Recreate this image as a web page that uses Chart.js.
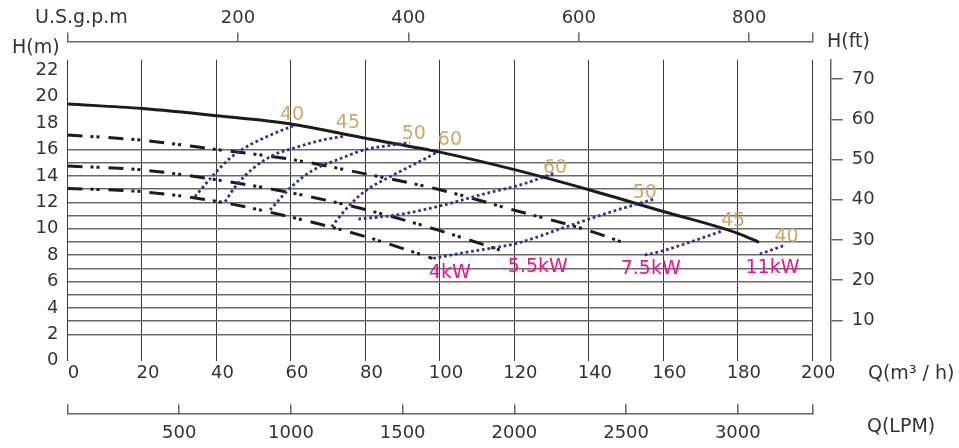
<!DOCTYPE html>
<html>
<head>
<meta charset="utf-8">
<script src="https://cdn.jsdelivr.net/npm/chart.js@4.4.0/dist/chart.umd.min.js"></script>
<style>
  html, body { margin: 0; padding: 0; background: #fff; }
  #wrap { width: 959px; height: 448px; }
</style>
</head>
<body>
<div id="wrap"><canvas id="chart" width="959" height="448"></canvas></div>
<script>
// Q in m3/h, H in m
const q11kW = [0, 20, 40, 60, 80, 100, 120, 140, 160, 180, 185.7];
const h11kW = [19.45, 19.1, 18.56, 17.93, 16.85, 15.8, 14.47, 12.95, 11.3, 9.65, 8.97];

const q7kW = [0, 20, 40, 60, 80, 100, 120, 140, 149.2];
const h7kW = [17.1, 16.7, 16.0, 15.25, 14.15, 12.95, 11.4, 9.85, 8.95];

const q5kW = [0, 20, 40, 60, 80, 100, 117];
const h5kW = [14.75, 14.45, 13.7, 12.72, 11.45, 9.85, 8.3];

const q4kW = [0, 20, 40, 60, 80, 98];
const h4kW = [13.05, 12.8, 12.07, 10.88, 9.4, 7.75];

// efficiency curves (%)
const qEffL40 = [34.2, 39.2, 43.6, 48.1, 53.5, 61.1];
const hEffL40 = [12.42, 14.07, 15.33, 16.21, 16.97, 17.86];
const qEffL45 = [42.3, 45.4, 49.9, 55.3, 60.6, 67.8, 74.5];
const hEffL45 = [12.05, 13.31, 14.58, 15.58, 16.09, 16.67, 17.02];
const qEffL50 = [54.4, 59.7, 66, 72.3, 80.3, 85.7, 91.9];
const hEffL50 = [11.42, 13.06, 14.45, 15.2, 16.02, 16.27, 16.52];
const qEffL60 = [70.9, 75.8, 80.3, 86.6, 92.8, 99.5];
const hEffL60 = [10.15, 11.8, 12.93, 13.94, 14.83, 15.83];
const qEffR60 = [78.1, 88.4, 100, 112.5, 121.5, 130.9];
const hEffR60 = [10.73, 11.04, 11.72, 12.68, 13.31, 14.22];
const qEffR50 = [98.2, 108.1, 120.6, 134, 144.8, 157.3];
const hEffR50 = [7.76, 8.26, 8.89, 10.15, 11.17, 12.23];
const qEffR45 = [155, 160, 166.2, 176];
const hEffR45 = [8.0, 8.33, 8.89, 9.85];
const qEffR40 = [185.9, 192.2];
const hEffR40 = [8.08, 8.7];

const effLabels = ['40', '45', '50', '60', '60', '50', '45', '40'];
const effLabelQ = [60.3, 75.3, 93.0, 102.7, 130.9, 155.0, 178.7, 193.1];
const effLabelH = [18.61, 18.0, 17.17, 16.72, 14.6, 12.67, 10.58, 9.37];

const powerLabels = ['4kW', '5.5kW', '7.5kW', '11kW'];
const powerLabelQ = [102.7, 126.3, 156.6, 189.3];
const powerLabelH = [6.62, 7.12, 6.95, 7.0];

// axis ticks
const qTicks = [0, 20, 40, 60, 80, 100, 120, 140, 160, 180, 200];
const hTicks = [0, 1, 2, 3, 4, 5, 6, 7, 8, 9, 10, 11, 12, 13, 14, 15, 16, 17, 18, 19, 20, 21, 22];
const ftTicks = [10, 20, 30, 40, 50, 60, 70];
const gpmTicks = [0, 200, 400, 600, 800];
const lpmTicks = [0, 500, 1000, 1500, 2000, 2500, 3000];

const Q_MAX = 200;
const H_MAX = 22.8;
const GPM_MAX = 874;
const LPM_MAX = Q_MAX * 1000 / 60;
const FT_MAX = H_MAX * 3.2808;

const TEXT = '#333';
const BLUE = '#2d3192';
const TAN = '#c8aa6c';
const PINK = '#e6178c';
const FONT = '"DejaVu Sans", sans-serif';

function pts(qs, hs) {
    return qs.map((q, i) => ({ x: q, y: hs[i] }));
}

function headLine(qs, hs, dashed) {
    return {
        data: pts(qs, hs),
        borderColor: '#1c1c1c',
        borderWidth: 3,
        borderDash: dashed ? [15, 8, 3, 3, 3, 9] : [],
        pointRadius: 0,
        cubicInterpolationMode: 'monotone',
        fill: false
    };
}

function effLine(qs, hs) {
    return {
        data: pts(qs, hs),
        borderColor: BLUE,
        borderWidth: 2.8,
        borderDash: [2.7, 2.8],
        pointRadius: 0,
        cubicInterpolationMode: 'monotone',
        fill: false
    };
}

function setTicks(list) {
    return scale => { scale.ticks = list.map(v => ({ value: v })); };
}

// text on the curves and axis titles
const textPlugin = {
    id: 'curveText',
    afterDatasetsDraw(chart) {
        const { ctx, scales: { x, y } } = chart;
        ctx.save();
        ctx.textAlign = 'center';
        ctx.textBaseline = 'middle';
        ctx.font = '19px ' + FONT;
        ctx.fillStyle = TAN;
        effLabels.forEach((t, i) => {
            ctx.fillText(t, x.getPixelForValue(effLabelQ[i]), y.getPixelForValue(effLabelH[i]));
        });
        ctx.fillStyle = PINK;
        powerLabels.forEach((t, i) => {
            ctx.fillText(t, x.getPixelForValue(powerLabelQ[i]), y.getPixelForValue(powerLabelH[i]));
        });

        ctx.textAlign = 'left';
        ctx.fillStyle = TEXT;
        ctx.fillText('U.S.g.p.m', 35, 18);
        ctx.fillText('H(m)', 12, 48);
        ctx.fillText('H(ft)', 827, 42);
        ctx.fillText('Q(m³ / h)', 868, 374);
        ctx.fillText('Q(LPM)', 867, 427);
        ctx.restore();
    }
};

const tickFont = { family: FONT, size: 18 };

new Chart(document.getElementById('chart'), {
    type: 'line',
    data: {
        datasets: [
            effLine(qEffL40, hEffL40),
            effLine(qEffL45, hEffL45),
            effLine(qEffL50, hEffL50),
            effLine(qEffL60, hEffL60),
            effLine(qEffR60, hEffR60),
            effLine(qEffR50, hEffR50),
            effLine(qEffR45, hEffR45),
            effLine(qEffR40, hEffR40),
            headLine(q4kW, h4kW, true),
            headLine(q5kW, h5kW, true),
            headLine(q7kW, h7kW, true),
            headLine(q11kW, h11kW, false)
        ]
    },
    options: {
        responsive: false,
        animation: false,
        devicePixelRatio: 1,
        layout: { padding: 0 },
        plugins: {
            legend: { display: false },
            tooltip: { enabled: false }
        },
        scales: {
            x: {
                type: 'linear',
                position: 'bottom',
                weight: 0,
                min: 0,
                max: Q_MAX,
                afterBuildTicks: setTicks(qTicks),
                afterFit: s => { s.height = 52.6; },
                grid: { color: '#3a3a3a', lineWidth: 1, drawTicks: false },
                border: { display: false },
                ticks: { color: TEXT, font: tickFont, padding: 2, labelOffset: 6, maxRotation: 0, autoSkip: false }
            },
            lpm: {
                type: 'linear',
                position: 'bottom',
                weight: 1,
                min: 0,
                max: LPM_MAX,
                afterBuildTicks: setTicks(lpmTicks.concat([LPM_MAX])),
                afterFit: s => { s.height = 34.7; },
                grid: { drawOnChartArea: false, color: '#666', lineWidth: 1.5, tickLength: -9 },
                border: { display: true, color: '#666', width: 1.5 },
                ticks: {
                    color: TEXT, font: tickFont, padding: 18, maxRotation: 0, autoSkip: false,
                    callback: v => (v === 0 || v === LPM_MAX) ? '' : v
                }
            },
            sTop: {
                type: 'linear',
                position: 'top',
                weight: 0,
                afterFit: s => { s.height = 17.7; },
                grid: { display: false, drawTicks: false },
                border: { display: false },
                ticks: { display: false }
            },
            gpm: {
                type: 'linear',
                position: 'top',
                weight: 1,
                min: 0,
                max: GPM_MAX,
                afterBuildTicks: setTicks(gpmTicks.concat([GPM_MAX])),
                afterFit: s => { s.height = 42; },
                grid: { drawOnChartArea: false, color: '#666', lineWidth: 1.5, tickLength: 9.5 },
                border: { display: true, color: '#666', width: 1.5 },
                ticks: {
                    color: TEXT, font: tickFont, padding: 3.7, maxRotation: 0, autoSkip: false,
                    callback: v => (v === 0 || v === GPM_MAX) ? '' : v
                }
            },
            y: {
                type: 'linear',
                position: 'left',
                min: 0,
                max: H_MAX,
                afterBuildTicks: setTicks(hTicks),
                afterFit: s => { s.width = 67.5; },
                grid: {
                    drawTicks: false,
                    lineWidth: 1.5,
                    color: c => (c.tick && c.tick.value >= 2 && c.tick.value <= 16) ? '#6a6a6a' : 'rgba(0,0,0,0)'
                },
                border: { display: false },
                ticks: {
                    color: TEXT, font: tickFont, padding: 9, autoSkip: false,
                    callback: v => v % 2 === 0 ? v : ''
                }
            },
            sRight: {
                type: 'linear',
                position: 'right',
                weight: 0,
                afterFit: s => { s.width = 18.4; },
                grid: { display: false, drawTicks: false },
                border: { display: false },
                ticks: { display: false }
            },
            ft: {
                type: 'linear',
                position: 'right',
                weight: 1,
                min: 0,
                max: FT_MAX,
                afterBuildTicks: setTicks(ftTicks),
                afterFit: s => { s.width = 128.3; },
                grid: { drawOnChartArea: false, color: '#666', lineWidth: 1.5, tickLength: 12 },
                border: { display: true, color: '#666', width: 1.5 },
                ticks: { color: TEXT, font: tickFont, padding: 9, autoSkip: false }
            }
        }
    },
    plugins: [textPlugin]
});
</script>
</body>
</html>
